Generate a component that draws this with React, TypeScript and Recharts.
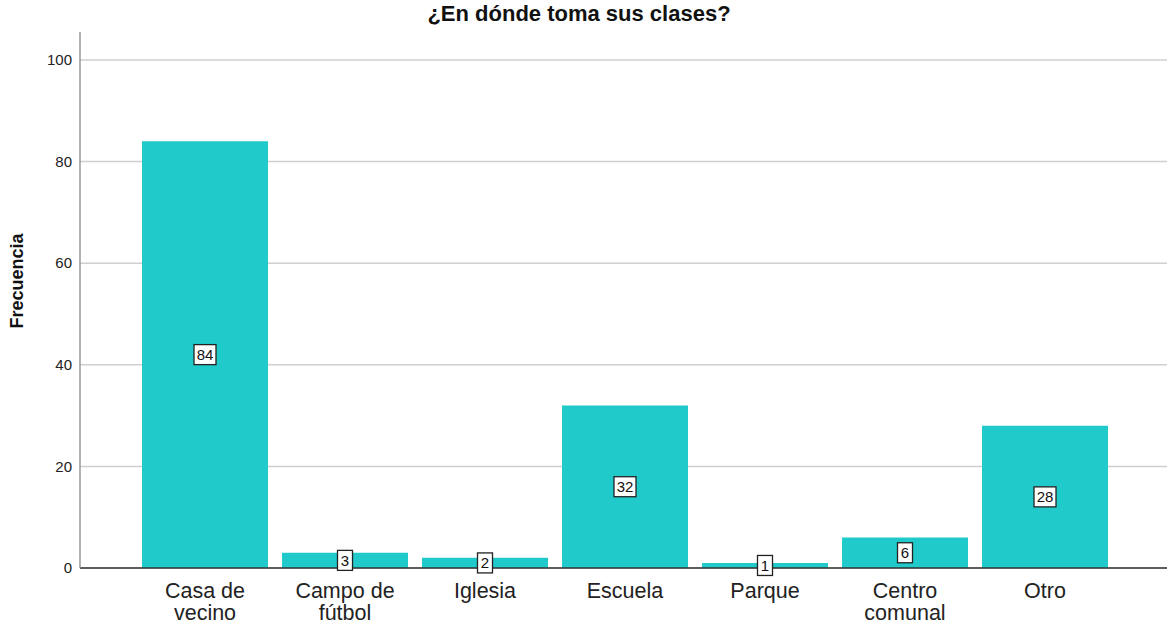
import React from 'react';
import { BarChart, Bar, XAxis, YAxis, CartesianGrid, LabelList } from 'recharts';

const places = ['Casa de\nvecino', 'Campo de\nfútbol', 'Iglesia', 'Escuela', 'Parque', 'Centro\ncomunal', 'Otro'];
const counts = [84, 3, 2, 32, 1, 6, 28];
const yTicks = [0, 20, 40, 60, 80, 100];

const data = places.map((place, i) => ({ place, count: counts[i] }));

const FONT = '"Liberation Sans", Arial, sans-serif';
const BAR = '#20c9ca';

function PlaceTick({ x, y, payload }: any) {
  const lines = String(payload.value).split('\n');
  return (
    <text x={x} y={y} textAnchor="middle" fontFamily={FONT} fontSize={21.5} fill="#222">
      {lines.map((line, i) => (
        <tspan key={i} x={x} dy={i === 0 ? 22 : 22}>
          {line}
        </tspan>
      ))}
    </text>
  );
}

function ValueBox({ x, y, width, height, value }: any) {
  const cx = x + width / 2;
  const cy = y + height / 2;
  const w = String(value).length > 1 ? 22 : 15;
  const h = 20;
  return (
    <g>
      <rect x={cx - w / 2} y={cy - h / 2} width={w} height={h} fill="#fff" stroke="#222" strokeWidth={1.3} />
      <text x={cx} y={cy + 5.5} textAnchor="middle" fontFamily={FONT} fontSize={15} fill="#111">
        {value}
      </text>
    </g>
  );
}

function YTitle() {
  return (
    <text
      x={23}
      y={281}
      transform="rotate(-90 23 281)"
      textAnchor="middle"
      fontFamily={FONT}
      fontWeight="bold"
      fontSize={18}
      fill="#111"
    >
      Frecuencia
    </text>
  );
}

export default function App() {
  return (
    <div style={{ position: 'absolute', left: 0, top: 0, width: 1172, height: 625, background: '#fff' }}>
      <div
        style={{
          position: 'absolute',
          left: 0,
          top: 1,
          width: 1158,
          textAlign: 'center',
          fontFamily: FONT,
          fontWeight: 'bold',
          fontSize: 22,
          color: '#111',
        }}
      >
        ¿En dónde toma sus clases?
      </div>
      <BarChart
        width={1172}
        height={625}
        data={data}
        margin={{ top: 32, right: 5, bottom: 0, left: 0 }}
        barCategoryGap="5%"
      >
        <CartesianGrid vertical={false} horizontalValues={yTicks} stroke="#cfcfcf" strokeWidth={1.5} />
        <XAxis
          dataKey="place"
          interval={0}
          height={57}
          padding={{ left: 55, right: 52 }}
          tickLine={false}
          axisLine={{ stroke: '#333', strokeWidth: 1.3 }}
          tick={<PlaceTick />}
        />
        <YAxis
          width={80}
          domain={[0, 105.5]}
          ticks={yTicks}
          tickLine={false}
          axisLine={{ stroke: '#888', strokeWidth: 1.3 }}
          tick={{ fontFamily: FONT, fontSize: 15, fill: '#222' }}
          label={<YTitle />}
        />
        <Bar dataKey="count" fill={BAR} isAnimationActive={false}>
          <LabelList dataKey="count" content={<ValueBox />} />
        </Bar>
      </BarChart>
    </div>
  );
}
